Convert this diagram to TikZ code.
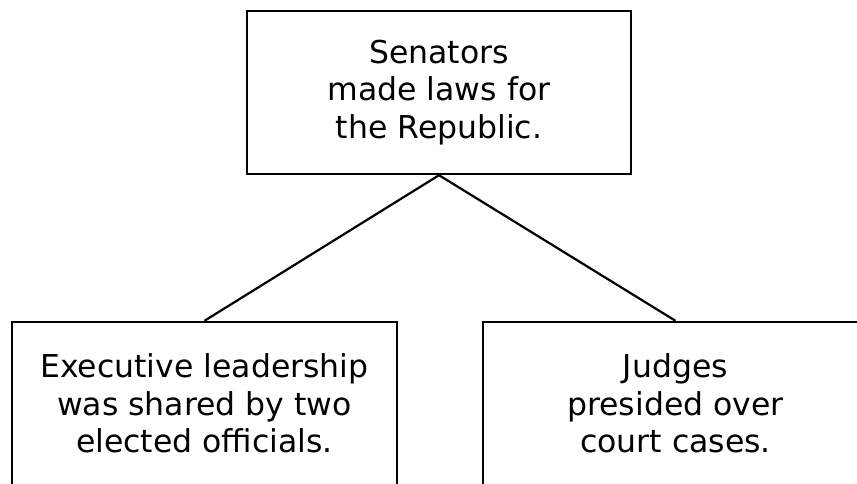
\documentclass[tikz,border=0pt]{standalone}
\usepackage{fontspec}
\setmainfont{DejaVu Sans}
\begin{document}
\begin{tikzpicture}[x=1pt,y=-1pt,
  box/.style={draw, line width=2.4pt, minimum height=163pt, align=center,
    inner sep=0pt, font=\fontsize{31.5}{37.5}\selectfont},
  link/.style={line width=2.2pt}]
\useasboundingbox (0,0) rectangle (857,484);
\node[box, minimum width=384pt] (top) at (439,92.5) {Senators\\made laws for\\the Republic.};
\node[box, minimum width=385pt] (left) at (204.5,403.5) {Executive leadership\\was shared by two\\elected officials.};
\node[box, minimum width=385pt] (right) at (675.5,403.5) {Judges\\presided over\\court cases.};
\draw[link] (top.south) -- (left.north);
\draw[link] (top.south) -- (right.north);
\end{tikzpicture}
\end{document}
